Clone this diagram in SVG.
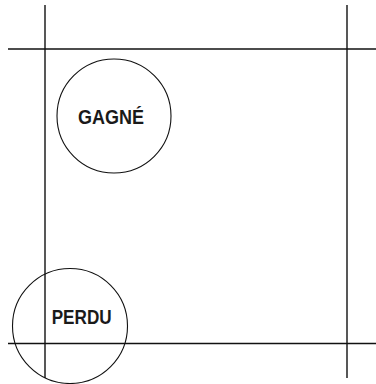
<svg xmlns="http://www.w3.org/2000/svg" width="376" height="384" viewBox="0 0 376 384">
<style>
.ln{stroke:#111;stroke-width:1.4;fill:none}
.nd{stroke:#111;stroke-width:1.1;fill:none}
.lb{font-family:"Liberation Sans Narrow","Liberation Sans",Arial,sans-serif;font-weight:bold;font-size:20.5px;fill:#1a1a1a;text-anchor:middle}
</style>
<rect width="376" height="384" fill="#fff"/>
<g id="connectors">
<line class="ln" x1="45" y1="5" x2="45" y2="378"/>
<line class="ln" x1="347" y1="5" x2="347" y2="378"/>
<line class="ln" x1="8" y1="49" x2="376" y2="49"/>
<line class="ln" x1="8" y1="343.5" x2="376" y2="343.5"/>
</g>
<g id="gagne">
<circle class="nd" cx="114" cy="116" r="57"/>
<text class="lb" x="111" y="124.3" textLength="66" lengthAdjust="spacingAndGlyphs">GAGNÉ</text>
</g>
<g id="perdu">
<circle class="nd" cx="70" cy="326" r="57.5"/>
<text class="lb" x="81.7" y="323.5" textLength="60" lengthAdjust="spacingAndGlyphs">PERDU</text>
</g>
</svg>
